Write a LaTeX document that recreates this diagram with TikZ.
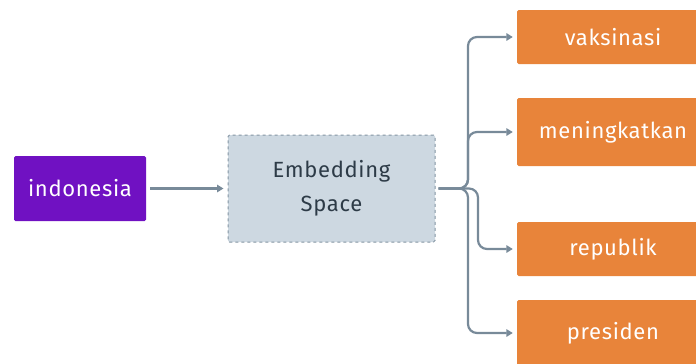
\documentclass[tikz,border=0pt]{standalone}
\usepackage{fontspec}
\setmainfont[LetterSpace=3]{Fira Sans}
\usetikzlibrary{arrows.meta}

\definecolor{wordpurple}{HTML}{7011C2}
\definecolor{wordorange}{HTML}{E8843A}
\definecolor{linkgray}{HTML}{788A99}
\definecolor{spacefill}{HTML}{CDD8E1}
\definecolor{spaceline}{HTML}{8495A3}
\definecolor{spacetext}{HTML}{2D3B47}

\begin{document}
\begin{tikzpicture}[x=1pt,y=-1pt,
    input/.style ={rectangle, rounded corners=1.5pt, fill=wordpurple, text=white,
      minimum width=132pt, minimum height=65pt, font=\fontsize{22}{25}\selectfont},
    space/.style ={rectangle, rounded corners=1.5pt, fill=spacefill, draw=spaceline,
      dashed, line width=1pt, text=spacetext, align=center,
      minimum width=207pt, minimum height=107pt, font=\fontsize{22}{34}\selectfont},
    output/.style ={rectangle, rounded corners=1.5pt, fill=wordorange, text=white,
      minimum width=192pt, font=\fontsize{22}{25}\selectfont},
    link/.style ={line width=2.2pt, linkgray, rounded corners=9pt,
      -{Stealth[length=6.5pt,width=7.5pt,inset=0pt]}}]
   \clip (0,0) rectangle (696,364);

   \node[input] (I) at (80,188.5) {indonesia};
   \node[space] (S) at (331.5,188.5) {Embedding\\Space};
   \node[output,minimum height=54pt] (V) at (613,37) {vaksinasi};
   \node[output,minimum height=68pt] (M) at (613,132) {meningkatkan};
   \node[output,minimum height=54pt] (R) at (613,249) {republik};
   \node[output,minimum height=66pt] (P) at (613,333) {presiden};

   \coordinate (fork) at (468,188.5);
   \coordinate (bend) at (478,188.5);

   \draw[link] ([xshift=4pt]I.east) to ([xshift=-4pt]S.west);
   \draw[link] ([xshift=3pt]S.east) -- (fork) |- ([xshift=-4pt]V.west);
   \draw[link] ([xshift=3pt]S.east) -- (fork) |- ([xshift=-4pt]M.west);
   \draw[link] ([xshift=3pt]S.east) -- (bend) |- ([xshift=-4pt]R.west);
   \draw[link] ([xshift=3pt]S.east) -- (fork) |- ([xshift=-4pt]P.west);
 \end{tikzpicture}
\end{document}
